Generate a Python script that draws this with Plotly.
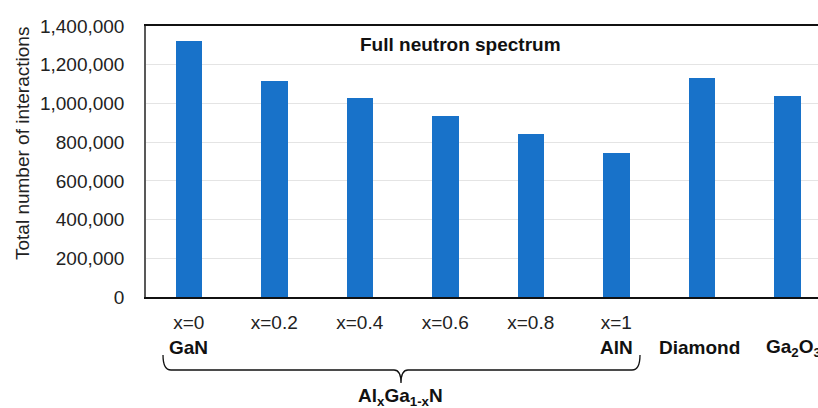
import plotly.graph_objects as go

# data
categories = ["x=0", "x=0.2", "x=0.4", "x=0.6", "x=0.8", "x=1", "Diamond", "Ga2O3"]
tick_labels = ["x=0", "x=0.2", "x=0.4", "x=0.6", "x=0.8", "x=1", "", ""]
interactions = [1322000, 1116000, 1028000, 935000, 844000, 744000, 1131000, 1038000]
material_labels = {0: "<b>GaN</b>", 5: "<b>AlN</b>", 6: "<b>Diamond</b>",
                   7: "<b>Ga<sub>2</sub>O<sub>3</sub></b>"}
y_ticks = [0, 200000, 400000, 600000, 800000, 1000000, 1200000, 1400000]

C_BAR = "#1872c9"
FONT = "Liberation Sans, Arial, sans-serif"
FS = 19

W, H = 818, 408
ML, MT, MB = 146, 26, 111
PW, PH = W - ML, H - MT - MB


def px(x):
    return (x - ML) / PW


def py(y):
    return (H - MB - y) / PH


fig = go.Figure()
fig.add_trace(go.Bar(x=list(range(len(categories))), y=interactions,
                     width=0.31, marker=dict(color=C_BAR, line_width=0),
                     hovertext=categories))

# bold material names under the tick labels
for i, txt in material_labels.items():
    fig.add_annotation(x=i, y=py(348), xref="x", yref="paper", text=txt,
                       showarrow=False, font=dict(size=FS, color="#111"),
                       xanchor="center", yanchor="middle",
                       xshift=6 if i == 7 else (-2 if i == 6 else 0))

# brace under the AlxGa1-xN group
pts = [(163, 355), (163, 370), (171, 370), (394, 370), (401, 370), (401, 383),
       (401, 370), (408, 370), (632, 370), (640, 370), (640, 355)]
p = [(px(a), py(b)) for a, b in pts]
path = ("M {0[0]},{0[1]} Q {1[0]},{1[1]} {2[0]},{2[1]} L {3[0]},{3[1]} "
        "Q {4[0]},{4[1]} {5[0]},{5[1]} Q {6[0]},{6[1]} {7[0]},{7[1]} "
        "L {8[0]},{8[1]} Q {9[0]},{9[1]} {10[0]},{10[1]}").format(*p)
fig.add_shape(type="path", path=path, xref="paper", yref="paper",
              line=dict(color="#111", width=1.3))

fig.add_annotation(x=px(400), y=py(397), xref="paper", yref="paper",
                   text="<b>Al<sub>x</sub>Ga<sub>1-x</sub>N</b>", showarrow=False,
                   font=dict(size=FS, color="#111"), xanchor="center", yanchor="middle")

fig.add_annotation(x=px(460), y=py(44), xref="paper", yref="paper",
                   text="<b>Full neutron spectrum</b>", showarrow=False,
                   font=dict(size=FS, color="#111"), xanchor="center", yanchor="middle")

fig.add_annotation(x=px(22), y=py(144), xref="paper", yref="paper",
                   text="Total number of interactions", textangle=-90, showarrow=False,
                   font=dict(size=FS, color="#222"), xanchor="center", yanchor="middle")

fig.update_layout(
    width=W, height=H, autosize=False,
    margin=dict(l=ML, r=0, t=MT, b=MB, pad=0),
    paper_bgcolor="white", plot_bgcolor="white",
    font=dict(family=FONT, size=FS, color="#222"),
    showlegend=False, bargap=0,
)
fig.update_xaxes(range=[-0.5, -0.5 + PW / 85.5], tickmode="array",
                 tickvals=list(range(len(categories))), ticktext=tick_labels,
                 showline=True, mirror=True, linecolor="#111", linewidth=1.5,
                 showgrid=False, ticks="", ticklabelstandoff=7,
                 tickfont=dict(size=FS, color="#222"))
fig.update_yaxes(range=[0, 1400000], tickvals=y_ticks, tickformat=",",
                 showline=True, linecolor="#595959", linewidth=1.5,
                 gridcolor="#e4e4e4", gridwidth=1.3, zeroline=False,
                 ticks="", ticklabelstandoff=16,
                 tickfont=dict(size=FS, color="#222"))

# drop the default 8px page margin so the figure fills the window
fig.write_html("out.html", config={"displayModeBar": False},
               post_script="document.body.style.margin='0';"
                           "document.body.style.overflow='hidden';")
